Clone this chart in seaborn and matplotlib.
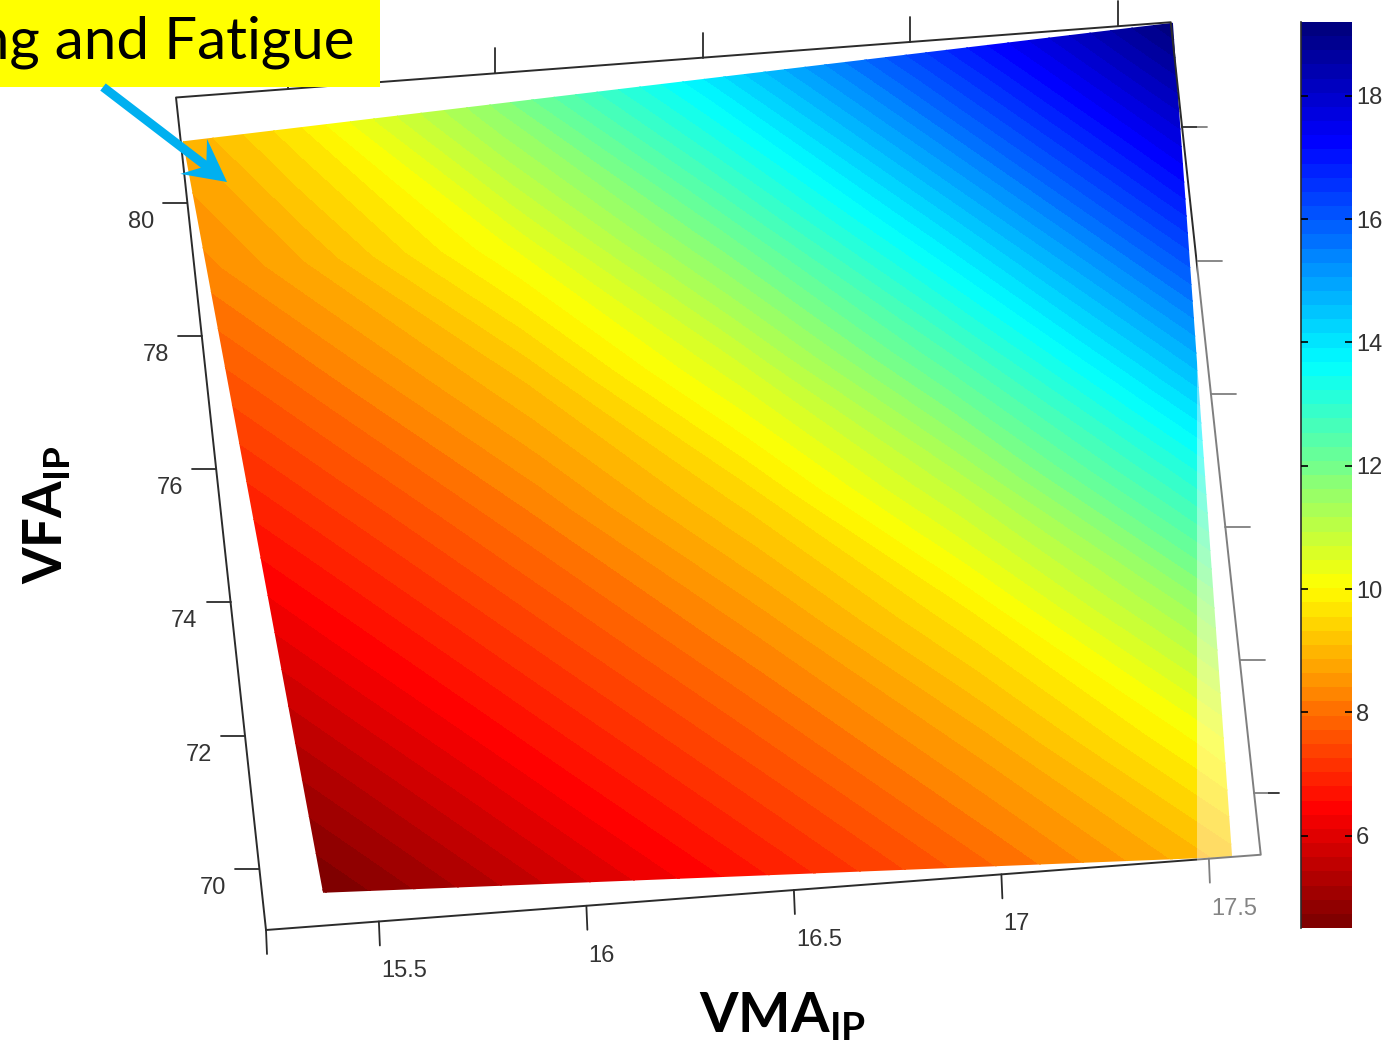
import numpy as np
import matplotlib
matplotlib.use("Agg")
import matplotlib.pyplot as plt
from matplotlib.colors import ListedColormap, Normalize
from matplotlib.cm import ScalarMappable
from matplotlib.patches import Polygon, Rectangle
from matplotlib.transforms import Affine2D
import seaborn as sns

# values
vma = [15.2, 15.5, 16.0, 16.5, 17.0, 17.5, 17.7]
vfa = [69, 71, 73, 75, 77, 79, 81, 81.7]
response = [
    [3.83, 4.52, 5.66, 6.78, 7.88, 9.02, 9.56],
    [4.72, 5.40, 6.54, 7.63, 8.75, 10.10, 10.79],
    [5.60, 6.29, 7.39, 8.49, 9.77, 11.45, 12.24],
    [6.48, 7.14, 8.24, 9.46, 11.06, 13.03, 13.88],
    [7.33, 8.00, 9.14, 10.67, 12.56, 14.71, 15.60],
    [8.19, 8.88, 10.28, 12.09, 14.21, 16.45, 17.35],
    [8.80, 9.70, 11.63, 13.71, 15.94, 18.16, 19.01],
    [9.10, 9.85, 12.19, 14.32, 16.56, 18.74, 19.57],
]
edge_vma = [15.374, 17.556, 17.63, 15.233]
edge_vfa = [69.57, 69.08, 81.57, 80.92]
vma_ticks = [15.5, 16, 16.5, 17, 17.5]
vma_labels = ["15.5", "16", "16.5", "17", "17.5"]
vfa_ticks = [70, 72, 74, 76, 78, 80]
vfa_labels = ["70", "72", "74", "76", "78", "80"]
cbar_ticks = [6, 8, 10, 12, 14, 16, 18]
c_min, c_max = 4.5, 19.2
x_min, x_max = 15.228, 17.625
y_min, y_max = 69.08, 81.58

sns.set_theme(style="white")
plt.rcParams["font.family"] = ["Liberation Sans", "DejaVu Sans"]
plt.rcParams["mathtext.fontset"] = "custom"
plt.rcParams["mathtext.bf"] = "Lato:bold"

fig = plt.figure(figsize=(13.92, 10.45), dpi=100)
ax = fig.add_axes([0, 0, 1, 1])

# tilted view of the plane: data units to picture pixels
view = Affine2D.from_values(415, -31.4, -7.2, -66.6,
                            266 - 415 * x_min + 7.2 * y_min,
                            930 + 31.4 * x_min + 66.6 * y_min)
to_ax = view + ax.transData

# matlab style jet, flipped, 64 steps
anchors = ["#800000", "#ff0000", "#ff8000", "#ffff00", "#80ff80",
           "#00ffff", "#0080ff", "#0000ff", "#000080"]
cmap = ListedColormap(sns.blend_palette(anchors, 64))
norm = Normalize(c_min, c_max)
levels = np.linspace(c_min, c_max, 65)

cs = ax.contourf(vma, vfa, response, levels=levels, cmap=cmap, norm=norm,
                 extend="both", transform=to_ax, antialiased=False, zorder=2)
clip = Polygon(np.column_stack([edge_vma, edge_vfa]), closed=True,
               transform=to_ax, fc="none", ec="none")
ax.add_patch(clip)
cs.set_clip_path(clip)

# box
line = "#2b2b2b"
ax.plot([x_min, x_max, x_max, x_min, x_min], [y_min, y_min, y_max, y_max, y_min],
        transform=to_ax, color=line, lw=1.4, zorder=3)

# ticks, drawn by hand because the view is tilted
for v, lab in zip(vma_ticks + [x_min], vma_labels + [None]):
    px, py = view.transform((v, y_min))
    ax.plot([px, px + 1], [py, py + 24], color=line, lw=1.3, zorder=3)
    tx, ty = view.transform((v, y_max))
    if v != x_min:
        ax.plot([tx - 1, tx - 1], [ty, ty - 25], color=line, lw=1.3, zorder=3)
    if lab:
        ax.text(px + 2, py + 50, lab, ha="left", va="center", fontsize=17,
                color="#333333", zorder=3)
for v, lab in zip(vfa_ticks, vfa_labels):
    px, py = view.transform((x_min, v))
    ax.plot([px, px - 24], [py, py], color=line, lw=1.3, zorder=3)
    ax.text(px - 33, py + 19, lab, ha="right", va="center", fontsize=17,
            color="#333333", zorder=3)
    px, py = view.transform((x_max, v))
    ax.plot([px, px + 25], [py, py], color=line, lw=1.3, zorder=3)

# pale strip lying over the right side of the slide
ax.add_patch(Rectangle((1197, 0), 71, 916, fc="white", ec="none", alpha=0.4, zorder=4))

# slide callout
ax.add_patch(Rectangle((0, 0), 380, 87, fc="#ffff00", ec="none", zorder=5))
ax.text(354, 42, "Cracking and Fatigue", ha="right", va="center", fontsize=42,
        family="Lato", color="black", zorder=6)
ax.arrow(103, 87, 124, 95, width=9, head_width=44, head_length=42, overhang=0.3,
         length_includes_head=True, fc="#00b0f0", ec="none", zorder=6)

ax.text(783, 1018, r"$\mathbf{VMA_{IP}}$", ha="center", va="center", fontsize=40,
        color="black", zorder=6)
ax.text(48, 515, r"$\mathbf{VFA_{IP}}$", ha="center", va="center", rotation=90,
        fontsize=38, color="black", zorder=6)

ax.set_xlim(0, 1392)
ax.set_ylim(1045, 0)
ax.axis("off")

# colorbar
cax = fig.add_axes([1301 / 1392, 1 - 928 / 1045, 51 / 1392, 906 / 1045])
cb = fig.colorbar(ScalarMappable(norm=norm, cmap=cmap), cax=cax)
cb.set_ticks(cbar_ticks)
cax.set_axisbelow(False)
cb.ax.tick_params(axis="y", direction="in", left=True, right=True, length=5,
                  width=1.2, color="black", labelsize=17, labelcolor="#333333", pad=3)
cb.outline.set_visible(False)
cax.spines["left"].set_visible(True)
cax.spines["left"].set_color(line)
cax.spines["left"].set_linewidth(1.2)

fig.savefig("out.png", dpi=100)
